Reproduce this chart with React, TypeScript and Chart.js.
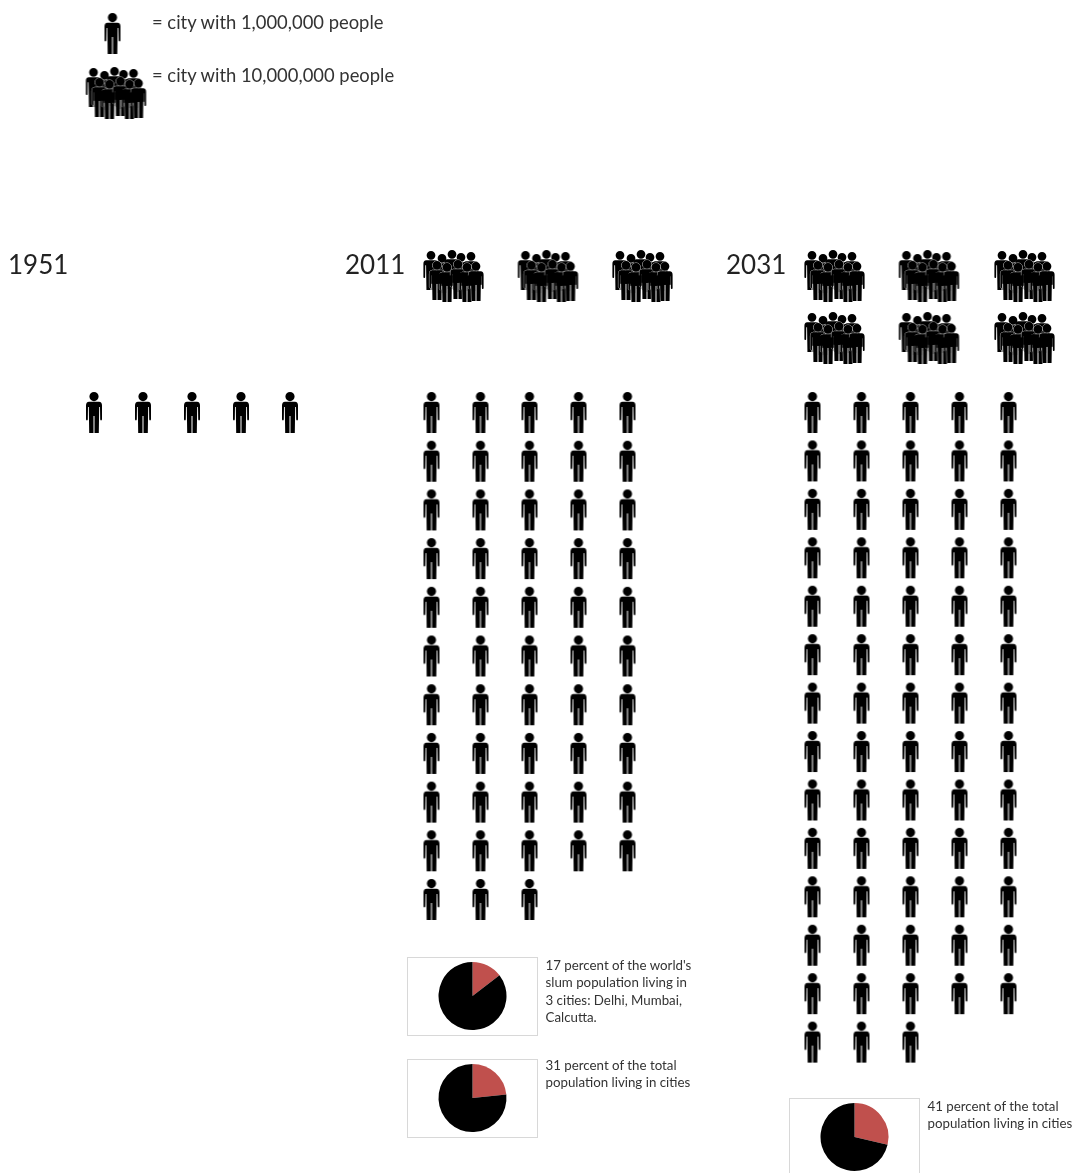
import React, { useEffect, useRef } from "react";
import { Chart, registerables } from "chart.js";

Chart.register(...registerables);

// ---- data ----
const years = ["1951", "2011", "2031"];
const megaCities = [0, 3, 6];           // cities with 10,000,000 people
const millionColumns1951 = [1, 1, 1, 1, 1];
const millionColumns2011 = [11, 11, 11, 10, 10];
const millionColumns2031 = [14, 14, 14, 13, 13];
const pieShare1 = [14.6, 85.4];
const pieShare2 = [23.4, 76.6];
const pieShare3 = [28.7, 71.3];
const legendLabels = ["= city with 1,000,000 people", "= city with 10,000,000 people"];
const caption1 = ["17 percent of the world's", "slum population living in", "3 cities: Delhi, Mumbai,", "Calcutta."];
const caption2 = ["31 percent of the total", "population living in cities"];
const caption3 = ["41 percent of the total", "population living in cities"];

// ---- layout ----
const W = 1074, H = 1173;
const panelPersonX = [94, 431.5, 812.5];
const panelStepY = [48.6, 48.7, 48.43];
const personStepX = 49, personTopY = 412.5;
const groupCols = [[], [454, 548.5, 643], [835, 929.5, 1025]];
const groupRowsY = [276, 338];
const FONT = "Lato, 'Open Sans', sans-serif";
const TEXT = "#222";

function personPath(p: any, cx: number, top: number, s: number) {
  const X = (v: number) => cx + v * s, Y = (v: number) => top + v * s;
  p.moveTo(X(-5), Y(9.7));
  p.lineTo(X(5), Y(9.7));
  p.quadraticCurveTo(X(8), Y(9.7), X(8), Y(13.5));
  p.lineTo(X(8), Y(27.5));
  p.quadraticCurveTo(X(7), Y(29.5), X(6.2), Y(27.5));
  p.lineTo(X(6), Y(15));
  p.lineTo(X(5.2), Y(15));
  p.lineTo(X(4.8), Y(41));
  p.lineTo(X(0.5), Y(41));
  p.lineTo(X(0.5), Y(24));
  p.lineTo(X(-0.5), Y(24));
  p.lineTo(X(-0.5), Y(41));
  p.lineTo(X(-4.8), Y(41));
  p.lineTo(X(-5.2), Y(15));
  p.lineTo(X(-6), Y(15));
  p.lineTo(X(-6.2), Y(27.5));
  p.quadraticCurveTo(X(-7), Y(29.5), X(-8), Y(27.5));
  p.lineTo(X(-8), Y(13.5));
  p.quadraticCurveTo(X(-8), Y(9.7), X(-5), Y(9.7));
  p.closePath();
  p.moveTo(X(4.6), Y(4.6));
  p.arc(X(0), Y(4.6), 4.6 * s, 0, Math.PI * 2);
  p.closePath();
}

function makePerson() {
  const c = document.createElement("canvas");
  c.width = 18; c.height = 43;
  const g = c.getContext("2d")!;
  g.filter = "blur(0.4px)";
  g.fillStyle = "#000";
  g.beginPath();
  personPath(g, 9, 1, 1);
  g.fill();
  return c;
}

function makeGroup() {
  const c = document.createElement("canvas");
  c.width = 64; c.height = 54;
  const g = c.getContext("2d")!;
  g.filter = "blur(0.4px)";
  const s = 0.95;
  const back: [number, number][] = [[9, 2], [20, 5], [30, 1], [39, 4], [49, 3]];
  const front: [number, number][] = [[15, 12], [25, 14], [36, 11], [45, 14], [54, 13]];
  g.fillStyle = "#000";
  for (const [x, y] of back) {
    g.beginPath();
    personPath(g, x, y, s);
    g.fill();
  }
  g.lineJoin = "round";
  for (const [x, y] of front) {
    g.beginPath();
    personPath(g, x, y, s);
    g.strokeStyle = "rgba(255,255,255,0.8)";
    g.lineWidth = 1;
    g.stroke();
    g.fillStyle = "#000";
    g.fill();
  }
  for (const [x, y] of front) {
    const X = (v: number) => x + v * s, Y = (v: number) => y + v * s;
    g.beginPath();
    g.rect(X(-6), Y(13), 12 * s, 11 * s);
    g.fill();
  }
  return c;
}

function millionPoints() {
  const cols = [millionColumns1951, millionColumns2011, millionColumns2031];
  const pts: { x: number; y: number }[] = [];
  cols.forEach((counts, p) =>
    counts.forEach((n, col) => {
      for (let r = 0; r < n; r++) pts.push({ x: panelPersonX[p] + col * personStepX, y: personTopY + r * panelStepY[p] });
    })
  );
  return pts;
}

function megaPoints() {
  const pts: { x: number; y: number }[] = [];
  megaCities.forEach((n, p) => {
    for (let i = 0; i < n; i++) {
      const cols = groupCols[p];
      pts.push({ x: cols[i % cols.length], y: groupRowsY[Math.floor(i / cols.length)] });
    }
  });
  return pts;
}

const textBase: React.CSSProperties = { position: "absolute", fontFamily: FONT, color: TEXT, whiteSpace: "pre", margin: 0 };

function Pie({ left, top, height, share }: { left: number; top: number; height: number; share: number[] }) {
  const ref = useRef<HTMLCanvasElement>(null);
  useEffect(() => {
    const chart = new Chart(ref.current!, {
      type: "pie",
      data: {
        labels: ["share", "rest"],
        datasets: [{ data: share, backgroundColor: ["#c0504d", "#000000"], borderWidth: 0 }],
      },
      options: {
        animation: false,
        responsive: false,
        layout: { padding: 4 },
        plugins: { legend: { display: false }, tooltip: { enabled: false } },
      },
    });
    return () => chart.destroy();
  }, [share]);
  return (
    <div style={{ position: "absolute", left, top, width: 131, height, boxSizing: "border-box", border: "1px solid #d8d8d8", overflow: "hidden", background: "#fff" }}>
      <canvas ref={ref} width={129} height={76} style={{ display: "block" }} />
    </div>
  );
}

export default function App() {
  const ref = useRef<HTMLCanvasElement>(null);
  useEffect(() => {
    const chart = new Chart(ref.current!, {
      type: "scatter",
      data: {
        datasets: [
          { label: "city with 1,000,000 people", data: millionPoints(), pointStyle: makePerson() as any, pointRadius: 9 },
          { label: "city with 10,000,000 people", data: megaPoints(), pointStyle: makeGroup() as any, pointRadius: 30 },
          { label: "key person", data: [{ x: 112.5, y: 33.5 }], pointStyle: makePerson() as any, pointRadius: 9 },
          { label: "key group", data: [{ x: 116.5, y: 93 }], pointStyle: makeGroup() as any, pointRadius: 30 },
        ],
      },
      options: {
        animation: false,
        responsive: false,
        layout: { padding: 0, autoPadding: false },
        plugins: { legend: { display: false }, tooltip: { enabled: false }, title: { display: false } },
        scales: {
          x: { type: "linear", display: false, min: 0, max: W },
          y: { type: "linear", display: false, min: 0, max: H, reverse: true },
        },
      },
    });
    return () => chart.destroy();
  }, []);

  const captionStyle = { ...textBase, fontSize: 13.3, lineHeight: "17.4px", fontWeight: 400, color: "#333" };
  const yearStyle = { ...textBase, fontSize: 26, lineHeight: "32px", top: 248, fontWeight: 400, color: "#222" };
  const legendStyle = { ...textBase, fontSize: 18.4, lineHeight: "22px", fontWeight: 400, color: "#333" };

  return (
    <div style={{ position: "absolute", left: 0, top: 0, width: W, height: H, overflow: "hidden", background: "#fff" }}>
      <canvas ref={ref} width={W} height={H} style={{ position: "absolute", left: 0, top: 0 }} />
      <div style={{ ...legendStyle, left: 152, top: 11 }}>{legendLabels[0]}</div>
      <div style={{ ...legendStyle, left: 152, top: 64 }}>{legendLabels[1]}</div>
      <div style={{ ...yearStyle, left: 8 }}>{years[0]}</div>
      <div style={{ ...yearStyle, left: 345 }}>{years[1]}</div>
      <div style={{ ...yearStyle, left: 726 }}>{years[2]}</div>
      <Pie left={407} top={957} height={79} share={pieShare1} />
      <Pie left={407} top={1059} height={79} share={pieShare2} />
      <Pie left={789} top={1098} height={79} share={pieShare3} />
      <div style={{ ...captionStyle, left: 545.5, top: 957 }}>{caption1.join("\n")}</div>
      <div style={{ ...captionStyle, left: 545.5, top: 1057 }}>{caption2.join("\n")}</div>
      <div style={{ ...captionStyle, left: 927.5, top: 1098 }}>{caption3.join("\n")}</div>
    </div>
  );
}
